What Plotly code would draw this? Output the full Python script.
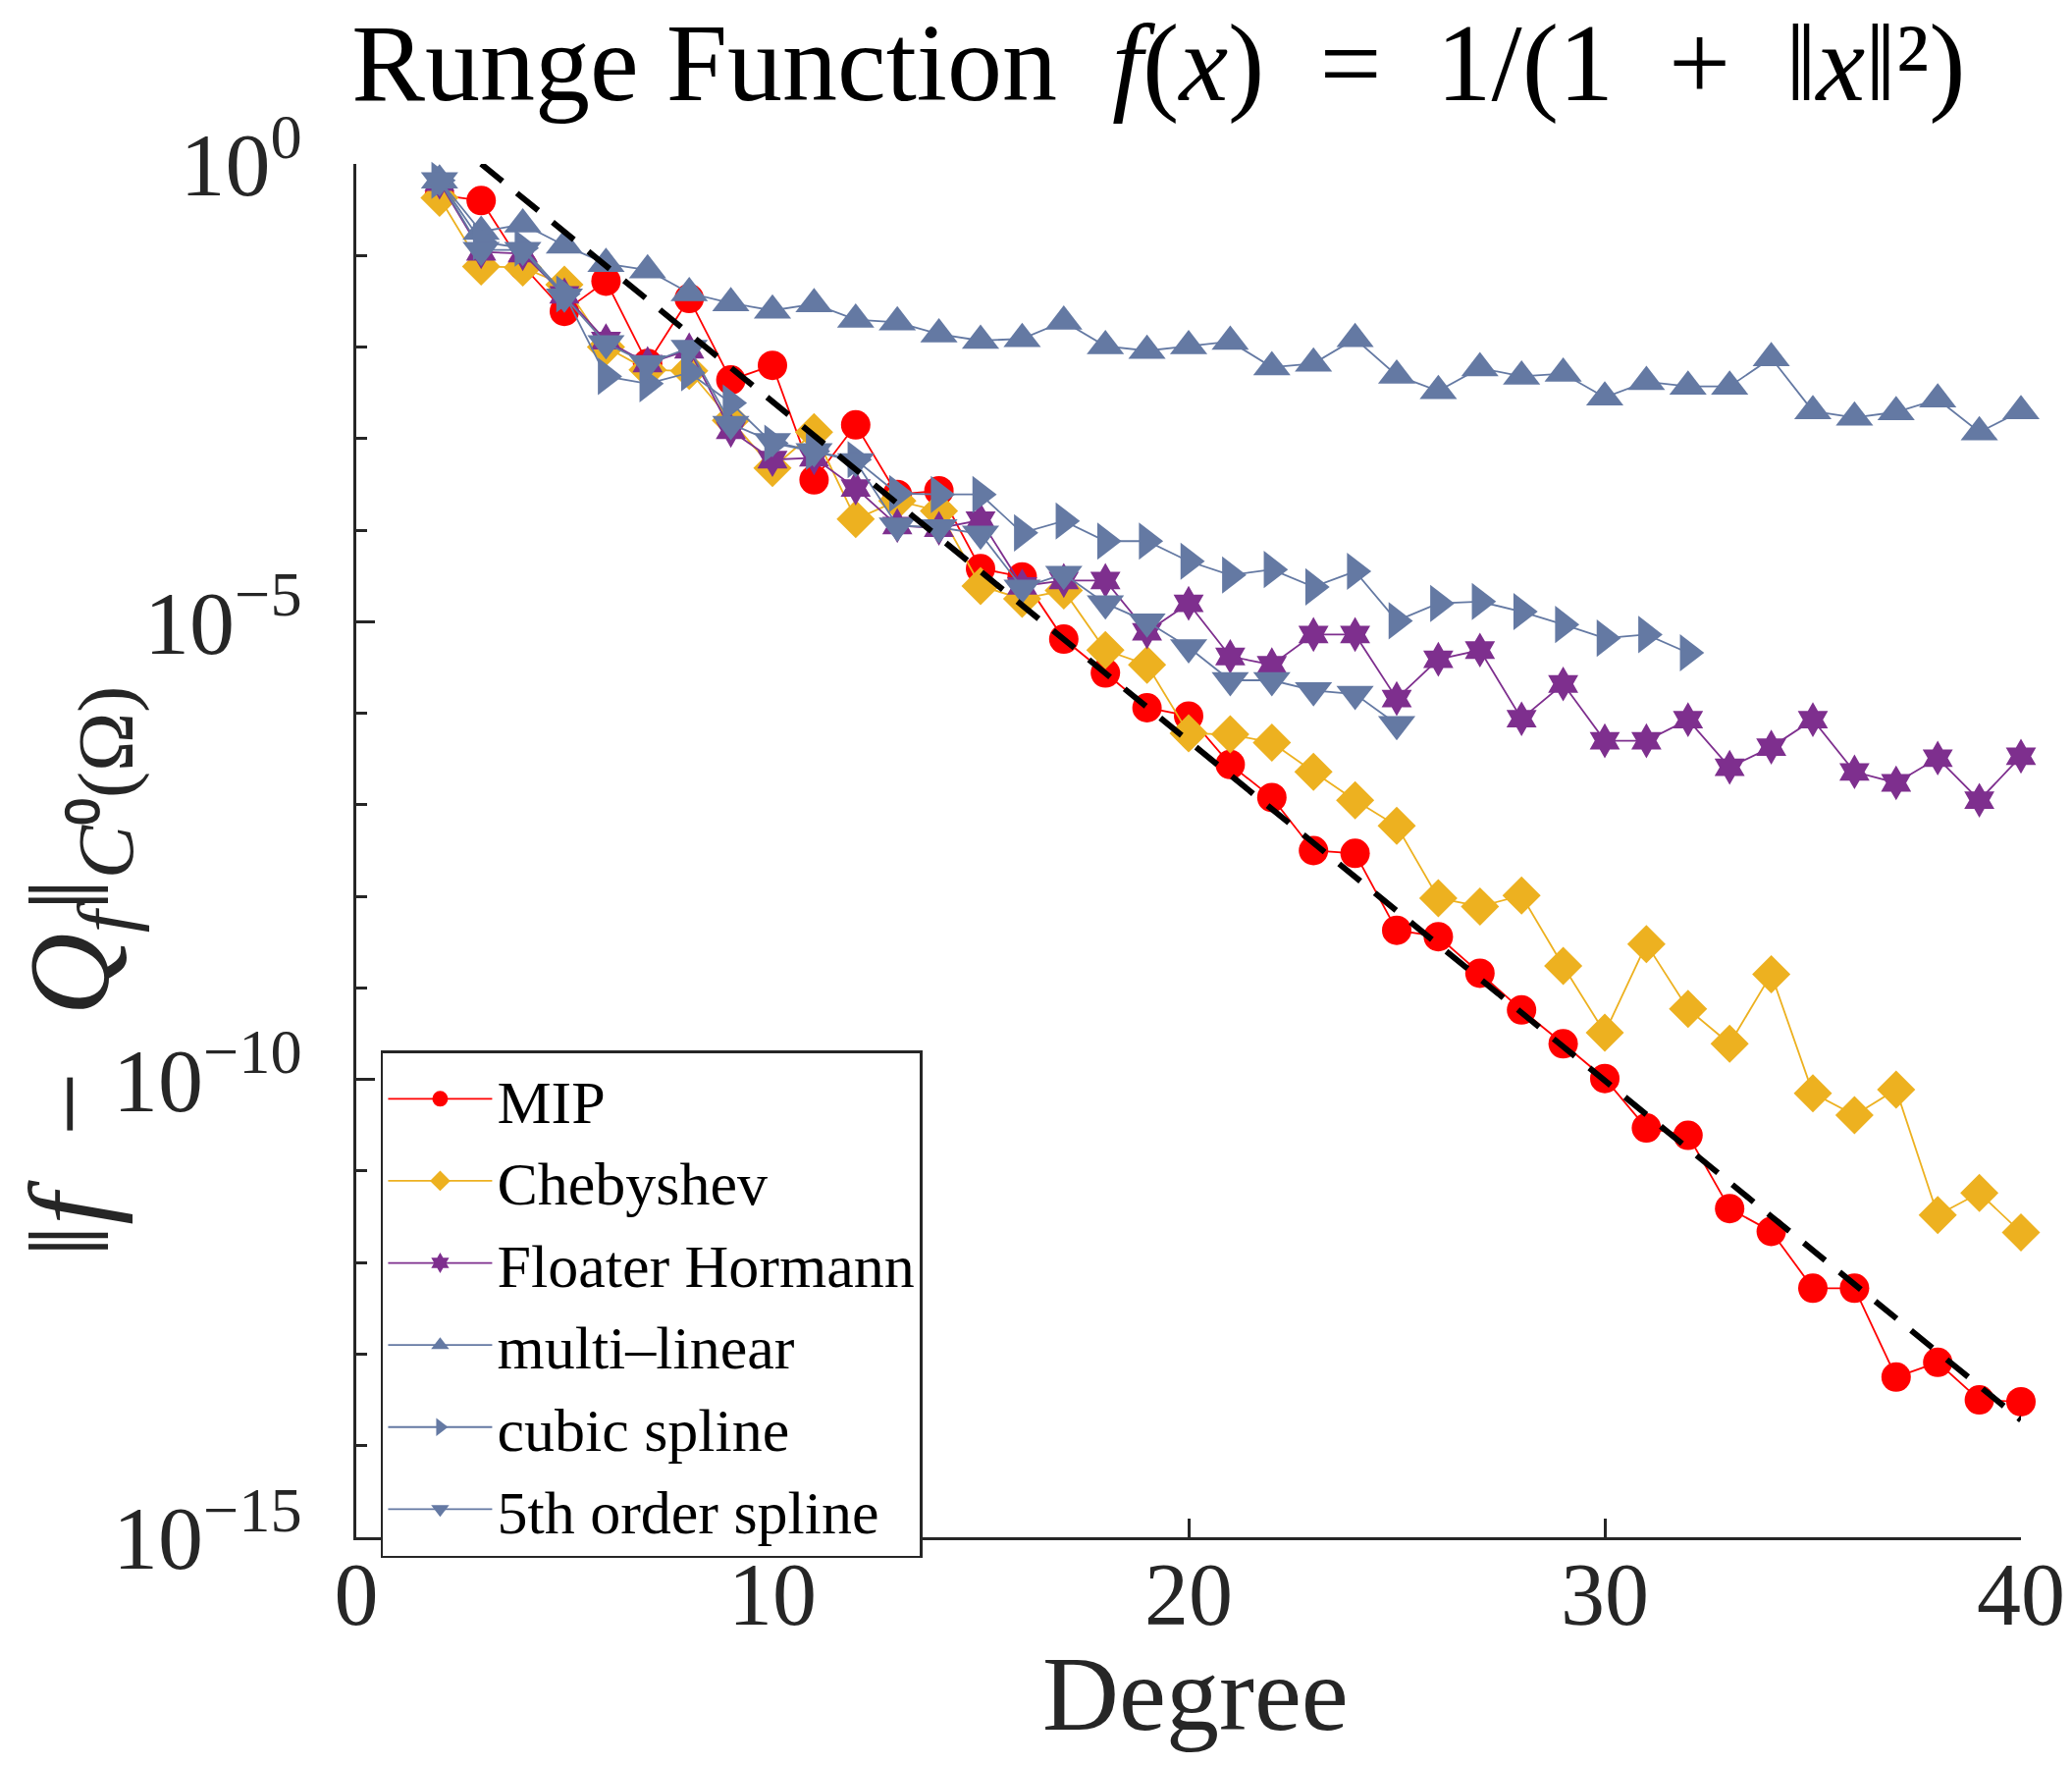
import numpy as np
import plotly.graph_objects as go

# ---------------- data (log10 of the C0 error) ----------------
degrees = list(range(2, 41))

mip_log10 = [-0.34, -0.40, -1.11, -1.61, -1.28, -2.18, -1.47, -2.36, -2.20, -3.45,
             -2.85, -3.61, -3.57, -4.42, -4.51, -5.19, -5.56, -5.94, -6.03, -6.56,
             -6.92, -7.50, -7.53, -8.37, -8.44, -8.84, -9.24, -9.61, -9.99, -10.53,
             -10.61, -11.41, -11.66, -12.28, -12.28, -13.25, -13.09, -13.50, -13.52]

cheb_log10 = [-0.37, -1.12, -1.13, -1.32, -2.00, -2.25, -2.26, -2.80, -3.32, -2.93,
              -3.88, -3.68, -3.79, -4.61, -4.75, -4.66, -5.31, -5.47, -6.22, -6.23,
              -6.32, -6.64, -6.95, -7.23, -8.02, -8.11, -7.99, -8.76, -9.49, -8.52,
              -9.23, -9.61, -8.85, -10.15, -10.39, -10.11, -11.48, -11.24, -11.67]

fh_log10 = [-0.20, -0.96, -0.98, -1.43, -1.93, -2.18, -2.03, -2.91, -3.23, -3.21,
            -3.54, -3.95, -3.98, -3.89, -4.61, -4.55, -4.55, -5.11, -4.80, -5.38,
            -5.47, -5.14, -5.14, -5.84, -5.41, -5.31, -6.06, -5.68, -6.30, -6.30,
            -6.07, -6.59, -6.37, -6.07, -6.64, -6.76, -6.49, -6.95, -6.47]

mlin_log10 = [-0.18, -0.74, -0.66, -0.89, -1.09, -1.16, -1.41, -1.52, -1.60, -1.53,
              -1.70, -1.73, -1.86, -1.93, -1.91, -1.72, -1.99, -2.04, -1.99, -1.94,
              -2.22, -2.18, -1.91, -2.31, -2.48, -2.23, -2.32, -2.29, -2.55, -2.38,
              -2.43, -2.43, -2.12, -2.70, -2.77, -2.71, -2.57, -2.93, -2.70]

cubic_degrees = list(range(2, 33))
cubic_log10 = [-0.18, -0.85, -0.92, -1.42, -2.32, -2.40, -2.28, -2.61, -3.05, -3.14,
               -3.23, -3.60, -3.61, -3.61, -4.03, -3.90, -4.12, -4.12, -4.34, -4.49,
               -4.43, -4.62, -4.45, -4.99, -4.80, -4.78, -4.89, -5.03, -5.18, -5.14,
               -5.34]

quint_degrees = list(range(2, 26))
quint_log10 = [-0.18, -0.94, -0.94, -1.45, -1.96, -2.18, -2.01, -2.84, -3.03, -3.14,
               -3.25, -3.95, -3.97, -4.04, -4.63, -4.48, -4.80, -5.00, -5.28, -5.64,
               -5.64, -5.75, -5.79, -6.12]

fit_degrees = [3, 40]
fit_log10 = [0.0, -13.72]

names = ["MIP", "Chebyshev", "Floater Hormann", "multi\u2013linear",
         "cubic spline", "5th order spline"]

y_tickvals = [1e0, 1e-5, 1e-10, 1e-15]
y_ticktext = ["10<sup>0</sup>", "10<sup>\u22125</sup>", "10<sup>\u221210</sup>",
              "10<sup>\u221215</sup>"]
y_minor = [10.0 ** (-k) for k in range(0, 16)]
x_tickvals = [0, 10, 20, 30, 40]

# ---------------- styling ----------------
FONT = "Liberation Serif"
AX = "#262626"
RED = "#FF0000"
YEL = "#EDB120"
PUR = "#7E2F8E"
BLU = "#6479A3"

series = [
    (degrees, mip_log10, names[0], RED, "circle", 30),
    (degrees, cheb_log10, names[1], YEL, "diamond", 30),
    (degrees, fh_log10, names[2], PUR, "hexagram", 27),
    (degrees, mlin_log10, names[3], BLU, "triangle-up", 33),
    (cubic_degrees, cubic_log10, names[4], BLU, "triangle-right", 33),
    (quint_degrees, quint_log10, names[5], BLU, "triangle-down", 33),
]

fig = go.Figure()
for xs, ls, nm, col, sym, sz in series:
    fig.add_trace(go.Scatter(
        x=xs, y=np.power(10.0, ls), name=nm, mode="lines+markers",
        line=dict(color=col, width=1.8),
        marker=dict(color=col, symbol=sym, size=sz, line=dict(width=0)),
        cliponaxis=False,
    ))

fig.add_trace(go.Scatter(
    x=fit_degrees, y=np.power(10.0, fit_log10), mode="lines", showlegend=False,
    line=dict(color="black", width=6, dash="28px,19px"), hoverinfo="skip",
))

W, H = 2111, 1798
L, R, T, B = 363, 52, 167, 232

SP = "\u2002"
title_txt = ("Runge Function" + SP + "<i>f</i>(<i>x</i>)" + SP + "=" + SP + "1/(1" + SP + "+" + SP
             + "\u2016<i>x</i>\u2016\u00b2)")
ylab_txt = ("\u2016<i>f</i>" + SP + "\u2212" + SP + "<i>Q</i><sub><i>f</i></sub>\u2016"
            + "<sub><i>C</i>\u2070(\u03a9)</sub>")

fig.update_layout(
    width=W, height=H,
    margin=dict(l=L, r=R, t=T, b=B, autoexpand=False),
    paper_bgcolor="white", plot_bgcolor="white",
    font=dict(family=FONT, color=AX),
    title=dict(text=title_txt,
               x=0.482, xref="paper", xanchor="center",
               y=1 - 63 / H, yref="container", yanchor="middle",
               font=dict(family=FONT, size=112, color="black")),
    xaxis=dict(range=[0, 40], tickmode="array", tickvals=x_tickvals,
               ticks="inside", ticklen=19, tickwidth=2.5, tickcolor=AX,
               showline=True, linecolor=AX, linewidth=3, mirror=False,
               showgrid=False, zeroline=False, automargin=False,
               tickfont=dict(family=FONT, size=90, color=AX),
               ticklabelstandoff=-22),
    yaxis=dict(type="log", range=[-15, 0], tickmode="array",
               tickvals=y_tickvals, ticktext=y_ticktext,
               ticks="inside", ticklen=19, tickwidth=2.5, tickcolor=AX,
               minor=dict(tickmode="array", tickvals=y_minor, ticks="inside",
                          ticklen=11, tickwidth=2.5, tickcolor=AX),
               showline=True, linecolor=AX, linewidth=3, mirror=False,
               showgrid=False, zeroline=False, automargin=False,
               tickfont=dict(family=FONT, size=92, color=AX),
               ticklabelstandoff=34),
    legend=dict(x=0.0147, y=0.3545, xanchor="left", yanchor="top",
                bgcolor="white", bordercolor=AX, borderwidth=2.5,
                font=dict(family=FONT, size=62, color="black"),
                itemwidth=106, tracegroupgap=0),
    annotations=[
        dict(text="Degree", xref="paper", yref="paper", x=0.504, y=-0.114,
             xanchor="center", yanchor="middle", showarrow=False,
             font=dict(family=FONT, size=108, color=AX)),
        dict(text=ylab_txt,
             xref="paper", yref="paper", x=-0.167, y=0.412, textangle=-90,
             xanchor="center", yanchor="middle", showarrow=False,
             font=dict(family=FONT, size=116, color=AX)),
    ],
)

fig.write_html("out.html")
